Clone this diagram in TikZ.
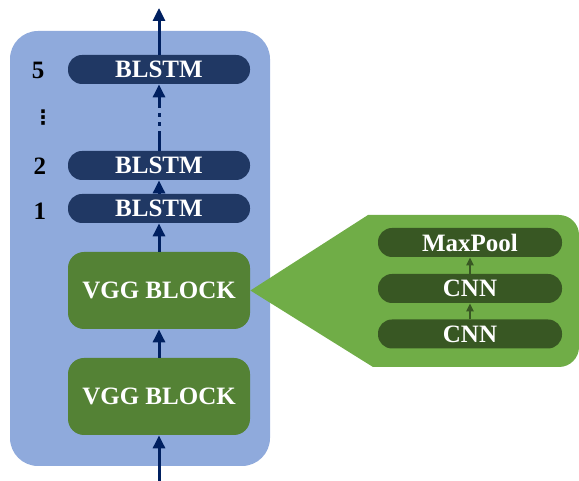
\documentclass[tikz,border=0pt]{standalone}
\usepackage{fontspec}
\setmainfont{Liberation Serif}
\newfontfamily\dotsfont{DejaVu Sans}
\usetikzlibrary{arrows.meta,calc}
\definecolor{panelblue}{HTML}{8FAADC}
\definecolor{lstmblue}{HTML}{203864}
\definecolor{flowblue}{HTML}{002060}
\definecolor{vgggreen}{HTML}{548235}
\definecolor{calloutgreen}{HTML}{70AD47}
\definecolor{layergreen}{HTML}{385723}

\begin{document}
\begin{tikzpicture}[x=0.5pt,y=0.5pt,
		font=\fontsize{12.5}{15}\selectfont\bfseries,
		lstm/.style={fill=lstmblue,text=white,rounded corners=7pt,minimum width=91pt,minimum height=14.5pt,inner sep=0pt},
		vgg/.style={fill=vgggreen,text=white,rounded corners=8pt,minimum width=91pt,minimum height=38.5pt,inner sep=0pt},
		layer/.style={fill=layergreen,text=white,rounded corners=7pt,minimum width=92pt,minimum height=14.5pt,inner sep=0pt},
		flow/.style={draw=flowblue,line width=1.5pt,-{Triangle[length=6.5pt,width=6pt]}},
		subflow/.style={draw=layergreen,line width=1pt,-{Triangle[length=4pt,width=3.5pt]}}]
		\useasboundingbox (0,0) rectangle (579,481);
		
		% encoder panel
		\fill[panelblue,rounded corners=14pt] (10,15) rectangle (270,450);
		
		\node[vgg] (v2) at (159,84.5) {VGG BLOCK};
		\node[vgg] (v1) at (159,190.5) {VGG BLOCK};
		\node[lstm] (b1) at (159,272.5) {BLSTM};
		\node[lstm] (b2) at (159,315.5) {BLSTM};
		\node[lstm] (b5) at (159,411.5) {BLSTM};
		
		\node (n1) at (40,270) {1};
		\node (n2) at (40,315) {2};
		\node[font=\dotsfont\fontsize{10}{12}\selectfont\bfseries] (nd) at (43,363) {⋮};
		\node (n5) at (38,411) {5};
		
		% zoom into a VGG block
		\fill[calloutgreen] (v1.east) -- (368,266) [rounded corners=10pt] -- (579,266) -- (579,114) [sharp corners] -- (373,114) -- cycle;
		\node[layer] (c1) at (470,147) {CNN};
		\node[layer] (c2) at (470,192.5) {CNN};
		\node[layer] (mp) at (470,238.5) {MaxPool};
		\draw[subflow] (c1) -- (c2);
		\draw[subflow] (c2) -- (mp);
		
		\coordinate (inb) at (159,0);
		\coordinate (outb) at (159,473);
		\draw[flow] (inb) -- (v2);
		\draw[flow] (v2) -- (v1);
		\draw[flow] (v1) -- (b1);
		\draw[flow] (b1) -- (b2);
		\draw[flow,dash pattern=on 10pt off 2.5pt on 2pt off 2.5pt on 2pt off 2.5pt] (b2) -- (b5);
		\draw[flow] (b5.north) -- (outb);
	\end{tikzpicture}
\end{document}
